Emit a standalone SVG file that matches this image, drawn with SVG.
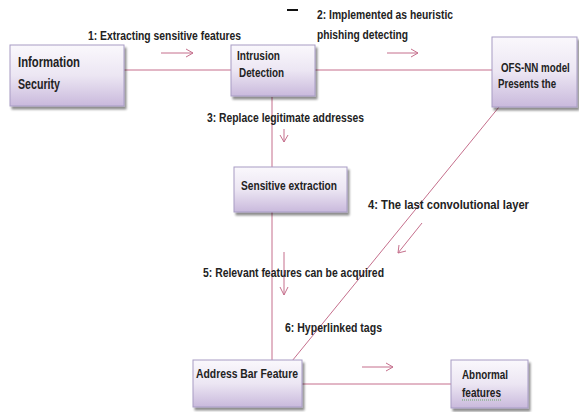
<svg xmlns="http://www.w3.org/2000/svg" width="579" height="412" viewBox="0 0 579 412">
<defs>
<linearGradient id="g" x1="0" y1="0" x2="0" y2="1">
<stop offset="0" stop-color="#faf8fc"/>
<stop offset="0.5" stop-color="#ece6f3"/>
<stop offset="1" stop-color="#c9b9dc"/>
</linearGradient>
<filter id="sh" x="-10%" y="-10%" width="130%" height="130%">
<feGaussianBlur in="SourceAlpha" stdDeviation="1"/>
<feOffset dx="2" dy="3" result="o"/>
<feComponentTransfer><feFuncA type="linear" slope="0.45"/></feComponentTransfer>
<feMerge><feMergeNode/><feMergeNode in="SourceGraphic"/></feMerge>
</filter>
</defs>
<style>
.box{fill:url(#g);stroke:#a79cc4;stroke-width:1;filter:url(#sh)}
.t{font-family:"Liberation Sans Narrow","Liberation Sans",Arial,sans-serif;font-weight:bold;fill:#222;font-size:13px}
.tb{font-size:14px}
.c{stroke:#c56f8c;stroke-width:1;fill:none}
.a{stroke:#c56f8c;stroke-width:1;fill:none}
</style>
<rect width="579" height="412" fill="#fff"/>
<line x1="287" y1="10" x2="298" y2="10" stroke="#111" stroke-width="2"/>
<g id="connectors">
<line class="c" x1="124" y1="70" x2="231" y2="70"/>
<line class="c" x1="315" y1="70" x2="492" y2="70"/>
<line class="c" x1="272" y1="97" x2="272" y2="167"/>
<line class="c" x1="272" y1="212" x2="272" y2="360"/>
<line class="c" x1="499" y1="107" x2="292" y2="361"/>
<line class="c" x1="302" y1="384" x2="451" y2="384"/>
<path class="a" d="M161 53H193M186 49L193 53L186 57"/>
<path class="a" d="M387 53H418M411 49L418 53L411 57"/>
<path class="a" d="M284 129V142M280 135L284 142L288 135"/>
<path class="a" d="M422 223L398 253M399 245L398 253L406 251"/>
<path class="a" d="M284 252V295M280 287L284 295L288 287"/>
<path class="a" d="M362 367H393M386 363L393 367L386 371"/>
</g>
<g id="labels">
<text class="t" x="88" y="40" textLength="153" lengthAdjust="spacingAndGlyphs">1: Extracting sensitive features</text>
<text class="t" x="317" y="19" textLength="136" lengthAdjust="spacingAndGlyphs">2: Implemented as heuristic</text>
<text class="t" x="317" y="39" textLength="91" lengthAdjust="spacingAndGlyphs">phishing detecting</text>
<text class="t" x="207" y="122" textLength="157" lengthAdjust="spacingAndGlyphs">3: Replace legitimate addresses</text>
<text class="t" x="368" y="209" textLength="161" lengthAdjust="spacingAndGlyphs">4: The last convolutional layer</text>
<text class="t" x="203" y="277" textLength="181" lengthAdjust="spacingAndGlyphs">5: Relevant features can be acquired</text>
<text class="t" x="285" y="332" textLength="97" lengthAdjust="spacingAndGlyphs">6: Hyperlinked tags</text>
</g>
<g id="information-security">
<rect class="box" x="10" y="45" width="114" height="61"/>
<text class="t tb" x="18" y="67" textLength="62" lengthAdjust="spacingAndGlyphs">Information</text>
<text class="t tb" x="18" y="89" textLength="42" lengthAdjust="spacingAndGlyphs">Security</text>
</g>
<g id="intrusion-detection">
<rect class="box" x="231" y="45" width="84" height="51"/>
<text class="t" x="237" y="60" textLength="43" lengthAdjust="spacingAndGlyphs">Intrusion</text>
<text class="t" x="239" y="77" textLength="45" lengthAdjust="spacingAndGlyphs">Detection</text>
</g>
<g id="ofs-nn-model">
<rect class="box" x="492" y="37" width="85" height="70"/>
<text class="t" transform="translate(501 72) scale(0.75 1)" x="0" y="0">OFS-NN model</text>
<text class="t" transform="translate(498 88) scale(0.745 1)" x="0" y="0">Presents the</text>
</g>
<g id="sensitive-extraction">
<rect class="box" x="234" y="167" width="113" height="45"/>
<text class="t" x="241" y="190" textLength="96" lengthAdjust="spacingAndGlyphs">Sensitive extraction</text>
</g>
<g id="address-bar-feature">
<rect class="box" x="193" y="360" width="109" height="47"/>
<text class="t" x="196" y="378" textLength="102" lengthAdjust="spacingAndGlyphs">Address Bar Feature</text>
</g>
<g id="abnormal-features">
<rect class="box" x="451" y="360" width="77" height="48"/>
<text class="t" x="462" y="379" textLength="46" lengthAdjust="spacingAndGlyphs">Abnormal</text>
<text class="t" x="462" y="397" textLength="39" lengthAdjust="spacingAndGlyphs">features</text>
<line x1="462" y1="400" x2="501" y2="400" stroke="#6aa86a" stroke-width="1" stroke-dasharray="1,1"/>
</g>
</svg>
